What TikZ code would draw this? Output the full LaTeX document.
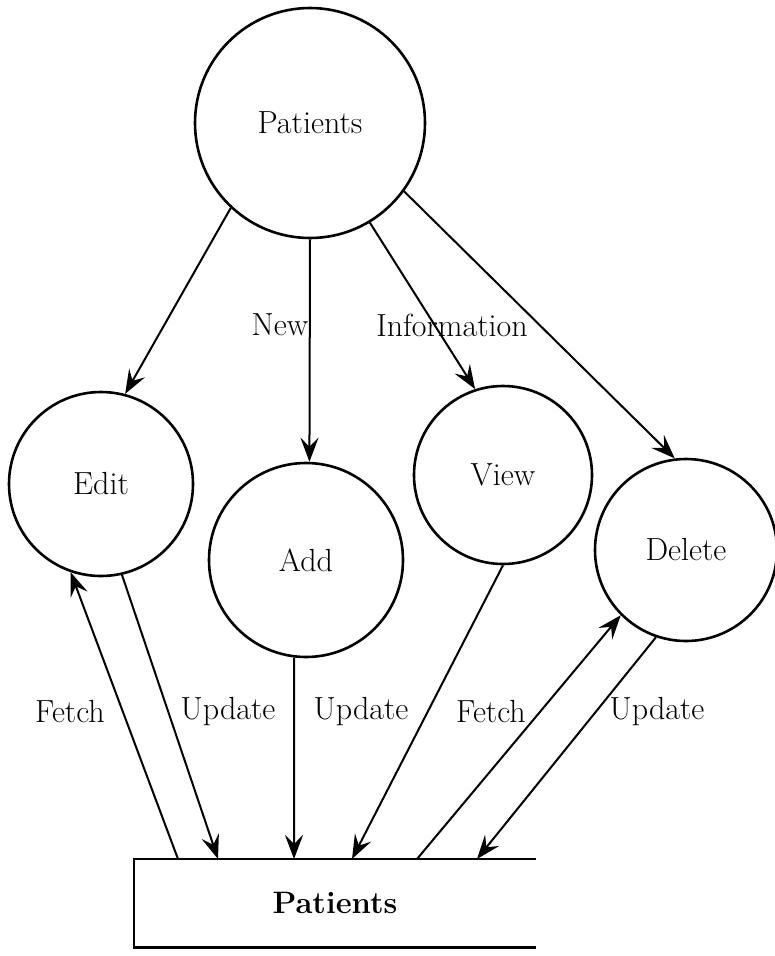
\documentclass[tikz,border=0pt]{standalone}
\usetikzlibrary{arrows.meta}
\begin{document}
\begin{tikzpicture}[x=1pt,y=-1pt,
  proc/.style={circle,draw,line width=2.6pt,inner sep=0pt,font=\fontsize{32}{38}\selectfont},
  flow/.style={line width=2pt,-{Stealth[length=24pt,width=18pt,inset=9pt]}},
  lbl/.style={font=\fontsize{32}{38}\selectfont,inner sep=0pt}]
\useasboundingbox (0,0) rectangle (775,956);
% processes
\node[proc,minimum size=230pt] (P) at (310,123) {Patients};
\node[proc,minimum size=184pt] (edit) at (101,484) {Edit};
\node[proc,minimum size=194pt] (add) at (306,560) {Add};
\node[proc,minimum size=178pt] (view) at (503,475) {View};
\node[proc,minimum size=182pt] (del) at (686,550) {Delete};
% data store
\node[minimum width=402pt,minimum height=88pt,inner sep=0pt,
      font=\fontsize{31}{36}\selectfont\bfseries] (store) at (335,903) {Patients};
\draw[line width=2.6pt] (store.north east) -- (store.north west) -- (store.south west) -- (store.south east);
\coordinate (s1) at (178,859);
\coordinate (s2) at (218,859);
\coordinate (s3) at (294,859);
\coordinate (s4) at (352,859);
\coordinate (s5) at (417,859);
\coordinate (s6) at (477,859);
% flows from the top
\draw[flow] (P.227) -- (edit.75);
\draw[flow] (P.270) -- (add.88);
\draw[flow] (P.301) -- (view.108);
\draw[flow] (P.324) -- (del.97);
% flows to/from the store
\draw[flow] (s1) -- (edit.251);
\draw[flow] (edit.283) -- (s2);
\draw[flow] (add.263) -- (s3);
\draw[flow] (view.270) -- (s4);
\draw[flow] (s5) -- (del.225);
\draw[flow] (del.251) -- (s6);
% labels
\node[lbl] (lnew) at (280,325) {New};
\node[lbl] (linfo) at (452,325) {Information};
\node[lbl] (lf1) at (70,712) {Fetch};
\node[lbl] (lu1) at (228,712) {Update};
\node[lbl] (lu2) at (361,712) {Update};
\node[lbl] (lf2) at (491,712) {Fetch};
\node[lbl] (lu3) at (657,712) {Update};
\end{tikzpicture}
\end{document}
